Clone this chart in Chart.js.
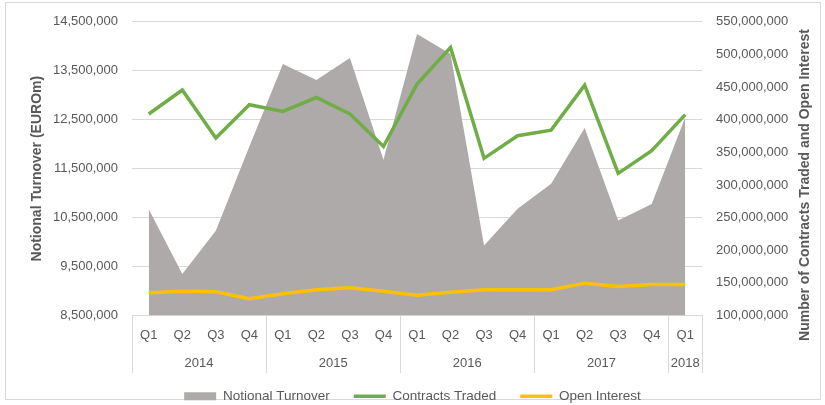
<!DOCTYPE html>
<html>
<head>
<meta charset="utf-8">
<script src="https://cdn.jsdelivr.net/npm/chart.js@4/dist/chart.umd.min.js"></script>
<style>
    body { margin: 0; background: #fff; }
    canvas { display: block; }
</style>
</head>
<body>
<canvas id="turnoverChart" width="825" height="405"></canvas>
<script>
// Datos del gráfico
var yearLabels = ['2014', '2015', '2016', '2017', '2018'];
var quartersPerYear = [4, 4, 4, 4, 1];
var quarterLabels = ['Q1', 'Q2', 'Q3', 'Q4', 'Q1', 'Q2', 'Q3', 'Q4', 'Q1', 'Q2', 'Q3', 'Q4', 'Q1', 'Q2', 'Q3', 'Q4', 'Q1'];

var notionalTurnover = [10670000, 9350000, 10230000, 11950000, 13640000, 13310000, 13760000, 11680000,
    14250000, 13840000, 9930000, 10680000, 11190000, 12330000, 10440000, 10780000, 12550000];
var contractsTraded = [408700000, 445400000, 372000000, 423000000, 412700000, 434000000, 408700000, 359000000,
    454600000, 510700000, 340800000, 375500000, 384000000, 453000000, 317800000, 352600000, 407700000];
var openInterest = [134700000, 137300000, 136300000, 125600000, 133200000, 139400000, 142400000, 137300000,
    131000000, 135700000, 139400000, 139400000, 139400000, 149500000, 144400000, 147500000, 147500000];

var leftTicks = [8500000, 9500000, 10500000, 11500000, 12500000, 13500000, 14500000];
var rightTicks = [100000000, 150000000, 200000000, 250000000, 300000000, 350000000, 400000000, 450000000, 500000000, 550000000];

var textColor = '#595959';
var gridColor = '#D9D9D9';
var fontFamily = "'Liberation Sans', Arial, sans-serif";

function formatNumber(v) {
    return v.toLocaleString('en-US');
}

// Marco exterior, años agrupados y título del eje derecho
var extrasPlugin = {
    id: 'extras',
    beforeDraw: function (chart) {
        var ctx = chart.ctx;
        ctx.save();
        ctx.strokeStyle = gridColor;
        ctx.lineWidth = 1;
        ctx.strokeRect(5.5, 2.5, 815, 397);
        ctx.restore();
    },
    afterDraw: function (chart) {
        var ctx = chart.ctx;
        var xScale = chart.scales.x;
        var area = chart.chartArea;
        var half = (xScale.getPixelForValue(1) - xScale.getPixelForValue(0)) / 2;

        ctx.save();
        ctx.strokeStyle = gridColor;
        ctx.lineWidth = 1;
        ctx.fillStyle = textColor;
        ctx.font = '13px ' + fontFamily;
        ctx.textAlign = 'center';
        ctx.textBaseline = 'middle';

        var start = 0;
        for (var i = 0; i < yearLabels.length; i++) {
            var end = start + quartersPerYear[i] - 1;
            var x0 = xScale.getPixelForValue(start) - half;
            var x1 = xScale.getPixelForValue(end) + half;
            if (i === 0) {
                ctx.beginPath();
                ctx.moveTo(Math.round(x0) + 0.5, area.bottom);
                ctx.lineTo(Math.round(x0) + 0.5, 373);
                ctx.stroke();
            }
            ctx.beginPath();
            ctx.moveTo(Math.round(x1) + 0.5, area.bottom);
            ctx.lineTo(Math.round(x1) + 0.5, 373);
            ctx.stroke();
            ctx.fillText(yearLabels[i], (x0 + x1) / 2, 363);
            start = end + 1;
        }

        // Título del eje derecho (de abajo hacia arriba, como en Excel)
        ctx.translate(805, 185);
        ctx.rotate(-Math.PI / 2);
        ctx.font = 'bold 14px ' + fontFamily;
        ctx.fillText('Number of Contracts Traded and Open Interest', 0, 0);
        ctx.restore();
    }
};

var ctx = document.getElementById('turnoverChart').getContext('2d');
var turnoverChart = new Chart(ctx, {
    type: 'line',
    data: {
        labels: quarterLabels,
        datasets: [{
            label: 'Notional Turnover',
            data: notionalTurnover,
            yAxisID: 'y',
            backgroundColor: '#AEAAAA',
            borderColor: '#AEAAAA',
            borderWidth: 0,
            pointRadius: 0,
            fill: 'start',
            order: 10,
            pointStyle: 'rect',
        }, {
            label: 'Contracts Traded',
            data: contractsTraded,
            yAxisID: 'y1',
            borderColor: '#70AD47',
            backgroundColor: '#70AD47',
            borderWidth: 3.5,
            pointRadius: 0,
            fill: false,
            order: 1,
            pointStyle: 'line',
        }, {
            label: 'Open Interest',
            data: openInterest,
            yAxisID: 'y1',
            borderColor: '#FFC000',
            backgroundColor: '#FFC000',
            borderWidth: 3.5,
            pointRadius: 0,
            fill: false,
            order: 0,
            pointStyle: 'line',
        }],
    },
    options: {
        responsive: false,
        animation: false,
        layout: { padding: { top: 21, left: 0, right: 0, bottom: -8 } },
        plugins: {
            tooltip: { enabled: false },
            legend: {
                position: 'bottom',
                labels: {
                    usePointStyle: true,
                    pointStyleWidth: 32,
                    boxHeight: 8,
                    padding: 24,
                    color: textColor,
                    font: { family: fontFamily, size: 13.5 },
                    sort: function (a, b) { return a.datasetIndex - b.datasetIndex; },
                },
            },
        },
        scales: {
            x: {
                offset: true,
                grid: { display: false, drawTicks: false },
                border: { display: true, color: gridColor },
                ticks: {
                    color: textColor,
                    font: { family: fontFamily, size: 13 },
                    padding: 12,
                    maxRotation: 0,
                    autoSkip: false,
                },
                afterFit: function (scale) { scale.height = 50; },
            },
            y: {
                position: 'left',
                min: 8500000,
                max: 14500000,
                afterBuildTicks: function (scale) {
                    scale.ticks = leftTicks.map(function (v) { return { value: v }; });
                },
                grid: { color: gridColor, drawTicks: false },
                border: { display: false },
                ticks: {
                    color: textColor,
                    font: { family: fontFamily, size: 13 },
                    padding: 14,
                    callback: function (v) { return formatNumber(v); },
                },
                title: {
                    display: true,
                    text: 'Notional Turnover (EUROm)',
                    color: textColor,
                    font: { family: fontFamily, size: 14, weight: 'bold' },
                    padding: { top: 29, bottom: 0 },
                },
                afterFit: function (scale) { scale.width = 132; },
            },
            y1: {
                position: 'right',
                min: 100000000,
                max: 550000000,
                afterBuildTicks: function (scale) {
                    scale.ticks = rightTicks.map(function (v) { return { value: v }; });
                },
                grid: { display: false, drawTicks: false },
                border: { display: false },
                ticks: {
                    color: textColor,
                    font: { family: fontFamily, size: 13 },
                    padding: 14,
                    callback: function (v) { return formatNumber(v); },
                },
                afterFit: function (scale) { scale.width = 123; },
            },
        },
    },
    plugins: [extrasPlugin],
});
</script>
</body>
</html>
